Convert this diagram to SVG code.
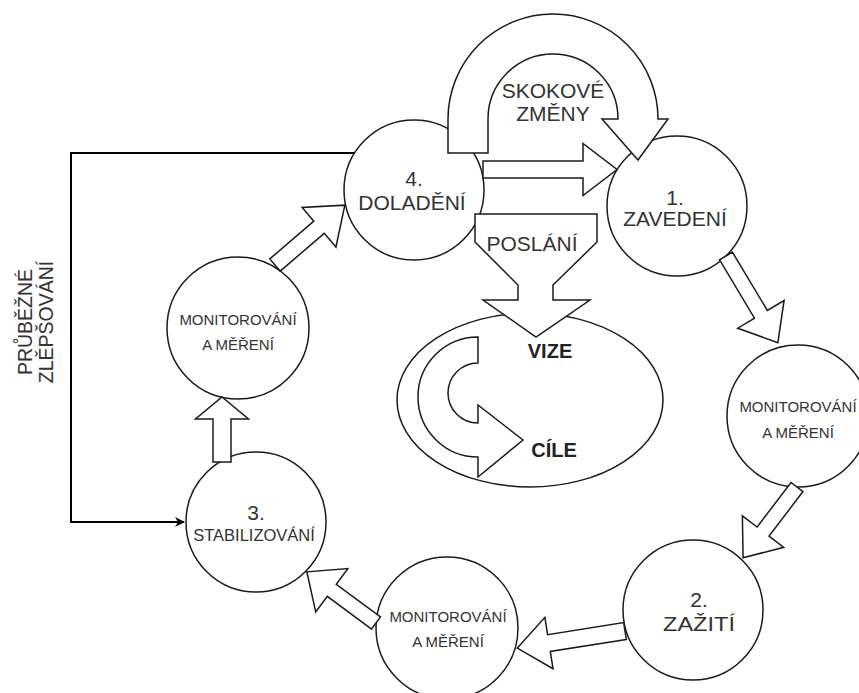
<svg xmlns="http://www.w3.org/2000/svg" width="859" height="693" viewBox="0 0 859 693">
  <style>
    .node { fill: #ffffff; stroke: #1a1a1a; stroke-width: 1.5; }
    .blk { fill: #ffffff; stroke: #1a1a1a; stroke-width: 1.5; stroke-linejoin: miter; }
    .lbl { font-family: "Liberation Sans", Arial, sans-serif; fill: #333333; text-anchor: middle; }
    .big { font-size: 21px; }
    .mid { font-size: 16.5px; }
    .small { font-size: 15px; }
    .bold { font-size: 20px; font-weight: bold; fill: #222222; }
    .feedback { fill: none; stroke: #000000; stroke-width: 2; }
  </style>
  <defs>
    <marker id="tip" viewBox="0 0 10 10" refX="9" refY="5" markerWidth="5" markerHeight="5" orient="auto" markerUnits="strokeWidth">
      <path d="M0,0 L10,5 L0,10 L3,5 Z" fill="#000000"/>
    </marker>
  </defs>

  <rect width="859" height="693" fill="#ffffff"/>

  <!-- vertical side label -->
  <g id="label-improvement">
    <text class="lbl" font-size="19.5" transform="translate(32,322) rotate(-90)">PRŮBĚŽNÉ</text>
    <text class="lbl" font-size="19.5" transform="translate(53,322) rotate(-90)">ZLĚPŠOVÁNÍ</text>
  </g>

  <!-- vision / goals ellipse -->
  <g id="vision">
    <ellipse class="node" cx="530" cy="400" rx="133" ry="87"/>
  </g>

  <g id="tuning">
    <circle class="node" cx="414" cy="190" r="70"/>
    <text class="lbl big" x="414" y="185.5">4.</text>
    <text class="lbl big" x="412" y="209.5">DOLADĚNÍ</text>
  </g>

  <g id="introduction">
    <circle class="node" cx="677" cy="206" r="70"/>
    <text class="lbl big" x="675" y="204.5">1.</text>
    <text class="lbl big" x="675" y="225.5">ZAVEDENÍ</text>
  </g>

  <g id="monitor-right">
    <circle class="node" cx="798" cy="416" r="71"/>
    <text class="lbl small" x="798" y="412">MONITOROVÁNÍ</text>
    <text class="lbl small" x="798" y="438">A MĚŘENÍ</text>
  </g>

  <g id="experience">
    <circle class="node" cx="693" cy="610" r="70"/>
    <text class="lbl big" x="699" y="607">2.</text>
    <text class="lbl big" x="699" y="630.5" textLength="72" lengthAdjust="spacingAndGlyphs">ZAŽITÍ</text>
  </g>

  <g id="monitor-bottom">
    <circle class="node" cx="447" cy="628" r="71"/>
    <text class="lbl small" x="448" y="622">MONITOROVÁNÍ</text>
    <text class="lbl small" x="448" y="647">A MĚŘENÍ</text>
  </g>

  <g id="stabilization">
    <circle class="node" cx="256" cy="522" r="70"/>
    <text class="lbl big" x="256" y="519.5">3.</text>
    <text class="lbl mid" x="254" y="541">STABILIZOVÁNÍ</text>
  </g>

  <g id="monitor-left">
    <circle class="node" cx="238" cy="328" r="71"/>
    <text class="lbl small" x="238" y="325">MONITOROVÁNÍ</text>
    <text class="lbl small" x="238" y="350">A MĚŘENÍ</text>
  </g>

  <!-- connectors -->
  <g id="connectors">
    <!-- continuous improvement loop -->
    <path class="feedback" d="M355,153 H71 V522 H184" marker-end="url(#tip)"/>

    <!-- cycle block arrows -->
    <path class="blk" transform="translate(483,169.5)" d="M0,-8.5 H100 V-26 L134,0 L100,26 V8.5 H0 Z"/>
    <path class="blk" transform="translate(726,256) rotate(59.1)" d="M0,-7.5 H68 V-27 L101,0 L68,27 V7.5 H0 Z"/>
    <path class="blk" transform="translate(797,487) rotate(127.3)" d="M0,-7.5 H56 V-26 L89,0 L56,26 V7.5 H0 Z"/>
    <path class="blk" transform="translate(625,631) rotate(171)" d="M0,-8.5 H77 V-26 L109,0 L77,26 V8.5 H0 Z"/>
    <path class="blk" transform="translate(376,623) rotate(216.5)" d="M0,-7.5 H55 V-27 L86,0 L55,27 V7.5 H0 Z"/>
    <path class="blk" transform="translate(222,462) rotate(-90)" d="M0,-9 H43 V-26.5 L65,0 L43,26.5 V9 H0 Z"/>
    <path class="blk" transform="translate(275,265) rotate(-40.6)" d="M0,-8 H58 V-26 L92,0 L58,26 V8 H0 Z"/>

    <!-- step changes: U-turn from 4 to 1 -->
    <g id="step-changes">
      <path class="blk" d="M448,153 V119 A105,105 0 0 1 658,119 H668 L638,160 L602,119 H618 A65,65 0 0 0 488,119 V153 Z"/>
      <text class="lbl big" x="553" y="97.5">SKOKOVÉ</text>
      <text class="lbl big" x="553" y="120.5">ZMĚNY</text>
    </g>

    <!-- mission funnel into vision -->
    <g id="mission">
      <path class="blk" d="M475,214 H597 V242 L553,285 V300 H590 L536,337 L483,300 H518 V285 L475,242 Z"/>
      <text class="lbl big" x="532" y="250.5">POSLÁNÍ</text>
    </g>

    <!-- vision to goals loop -->
    <g id="goals-loop">
      <path class="blk" d="M478,337 A60,60 0 0 0 478,457 V477 L523,440 L478,405 V423 A30,30 0 0 1 478,363 Z"/>
    </g>
  </g>

  <text class="lbl bold" x="550" y="358">VIZE</text>
  <text class="lbl bold" x="554" y="457">CÍLE</text>
</svg>
